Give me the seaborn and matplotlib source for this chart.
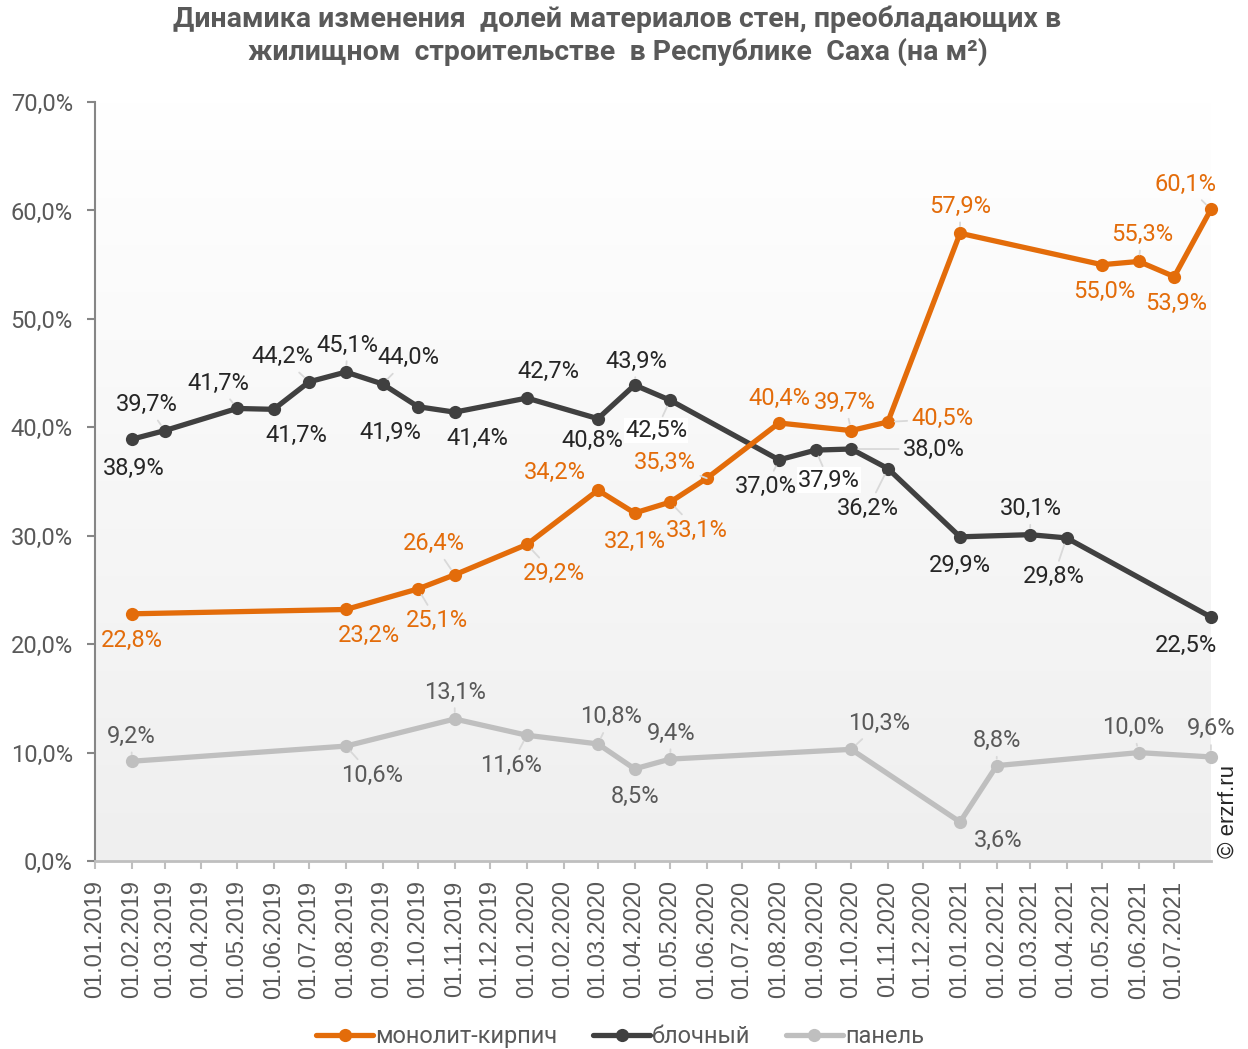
import numpy as np
import pandas as pd
import matplotlib.pyplot as plt
from matplotlib.colors import LinearSegmentedColormap
from matplotlib.ticker import FuncFormatter
import seaborn as sns

# Data
mono_dates = ['2019-02-01', '2019-08-01', '2019-10-01', '2019-11-01', '2020-01-01', '2020-03-01',
              '2020-04-01', '2020-05-01', '2020-06-01', '2020-08-01', '2020-10-01', '2020-11-01',
              '2021-01-01', '2021-05-01', '2021-06-01', '2021-07-01', '2021-08-01']
mono_vals = [22.8, 23.2, 25.1, 26.4, 29.2, 34.2, 32.1, 33.1, 35.3, 40.4, 39.7, 40.5,
             57.9, 55.0, 55.3, 53.9, 60.1]

block_dates = ['2019-02-01', '2019-03-01', '2019-05-01', '2019-06-01', '2019-07-01', '2019-08-01',
               '2019-09-01', '2019-10-01', '2019-11-01', '2020-01-01', '2020-03-01', '2020-04-01',
               '2020-05-01', '2020-08-01', '2020-09-01', '2020-10-01', '2020-11-01', '2021-01-01',
               '2021-03-01', '2021-04-01', '2021-08-01']
block_vals = [38.9, 39.7, 41.74, 41.66, 44.2, 45.1, 44.0, 41.9, 41.4, 42.7, 40.8, 43.9,
              42.5, 37.0, 37.9, 38.0, 36.2, 29.9, 30.1, 29.8, 22.5]

panel_dates = ['2019-02-01', '2019-08-01', '2019-11-01', '2020-01-01', '2020-03-01', '2020-04-01',
               '2020-05-01', '2020-10-01', '2021-01-01', '2021-02-01', '2021-06-01', '2021-08-01']
panel_vals = [9.2, 10.6, 13.1, 11.6, 10.8, 8.5, 9.4, 10.3, 3.6, 8.8, 10.0, 9.6]

series_names = ['монолит-кирпич', 'блочный', 'панель']
tick_dates = pd.date_range('2019-01-01', '2021-07-01', freq='MS')
tick_labels = [d.strftime('%d.%m.%Y') for d in tick_dates]

# label placement (pixels from the point) and whether a leader line is drawn
mono_off = [(0, -27, 0), (23, -26, 0), (19, -32, 1), (-21, 31, 1), (27, -29, 1), (-43, 18, 0),
            (0, -28, 0), (27, -28, 1), (-42, 16, 1), (0, 25, 0), (-6, 28, 1), (55, 3, 1),
            (0, 27, 1), (2, -27, 0), (3, 27, 1), (2, -27, 0), (-25, 25, 1)]
block_off = [(2, -29, 0), (-18, 26, 1), (-19, 25, 1), (23, -26, 0), (-27, 25, 1), (2, 27, 1),
             (26, 26, 1), (-28, -26, 0), (23, -26, 0), (22, 27, 0), (-6, -22, 0), (2, 24, 1),
             (-14, -30, 1), (-13, -27, 1), (13, -30, 1), (83, 0, 1), (-20, -40, 1), (0, -29, 0),
             (1, 26, 1), (-13, -39, 1), (-25, -28, 0)]
panel_off = [(0, 25, 1), (26, -29, 1), (0, 27, 1), (-16, -30, 1), (13, 27, 1), (0, -28, 0),
             (1, 26, 1), (28, 26, 1), (38, -18, 0), (0, 25, 1), (-6, 25, 1), (0, 28, 1)]

colors = ['#E36C0A', '#404040', '#BFBFBF']
label_colors = ['#E36C0A', '#262626', '#595959']
white_box = {('блочный', 37.9), ('блочный', 42.5)}

sns.set_style('white')
plt.rcParams['font.family'] = ['Roboto', 'DejaVu Sans']

fig = plt.figure(figsize=(12.48, 10.49), dpi=100)
ax = fig.add_axes([0.0761, 0.1792, 0.8942, 0.7235])

# plot area gradient
cmap = LinearSegmentedColormap.from_list('bg', ['#efefef', '#ffffff'])
grad = np.linspace(1, 0, 256).reshape(-1, 1)
ax.imshow(grad, extent=[0, 1, 0, 1], transform=ax.transAxes, cmap=cmap,
          aspect='auto', zorder=0)

all_series = [(mono_dates, mono_vals, mono_off), (block_dates, block_vals, block_off),
              (panel_dates, panel_vals, panel_off)]

for i, (dates, vals, offs) in enumerate(all_series):
    x = pd.to_datetime(dates)
    sns.lineplot(x=x, y=vals, ax=ax, color=colors[i], linewidth=3.8, marker='o',
                 markersize=9.5, markeredgewidth=0, label=series_names[i], zorder=3 - i * 0.1,
                 clip_on=False)
    for d, v, (dx, dy, lead) in zip(x, vals, offs):
        txt = f'{v:.1f}%'.replace('.', ',')
        kw = {}
        if lead:
            kw['arrowprops'] = dict(arrowstyle='-', color='#d9d9d9', lw=1.3,
                                    shrinkA=1, shrinkB=5)
        if (series_names[i], v) in white_box:
            kw['bbox'] = dict(boxstyle='square,pad=0.05', fc='white', ec='none')
        ax.annotate(txt, xy=(d, v), xytext=(dx, dy), textcoords='offset pixels',
                    ha='center', va='center', fontsize=17, color=label_colors[i],
                    zorder=5, **kw)

ax.set_xlim(pd.Timestamp('2019-01-01'), pd.Timestamp('2021-08-01'))
ax.set_ylim(0, 70)
ax.set_yticks(np.arange(0, 71, 10))
ax.yaxis.set_major_formatter(FuncFormatter(lambda v, _: f'{v:.1f}%'.replace('.', ',')))
ax.set_xticks(tick_dates)
ax.set_xticklabels(tick_labels, rotation=90, fontfamily='Liberation Sans')
ax.set_xlabel('')
ax.set_ylabel('')

for s in ['top', 'right']:
    ax.spines[s].set_visible(False)
ax.spines['left'].set_color('#868686')
ax.spines['left'].set_linewidth(1.5)
ax.spines['bottom'].set_color('#bfbfbf')
ax.spines['bottom'].set_linewidth(2)
ax.tick_params(axis='y', length=6, width=1.5, color='#868686', labelsize=17,
               labelcolor='#595959', pad=10, left=True)
ax.tick_params(axis='x', length=6, width=1.5, color='#bfbfbf', labelsize=17,
               labelcolor='#595959', pad=8, bottom=True)

handles, labels = ax.get_legend_handles_labels()
ax.get_legend().remove()
fig.legend(handles, labels, loc='center', bbox_to_anchor=(0.497, 0.012), ncol=3,
           frameon=False, fontsize=17, labelcolor='#595959', handlelength=2.4,
           handletextpad=0.1, columnspacing=1.5)

fig.text(0.4948, 0.9657,
         'Динамика изменения  долей материалов стен, преобладающих в\n'
         'жилищном  строительстве  в Республике  Саха (на м²)',
         ha='center', va='center', fontsize=20.5, fontweight='bold', color='#595959',
         linespacing=1.2)
fig.text(1228 / 1248, 1 - 812 / 1049, '© erzrf.ru', rotation=90, ha='center', va='center',
         fontsize=16, color='#262626', fontfamily='Liberation Sans')

fig.savefig('out.png', dpi=100)
